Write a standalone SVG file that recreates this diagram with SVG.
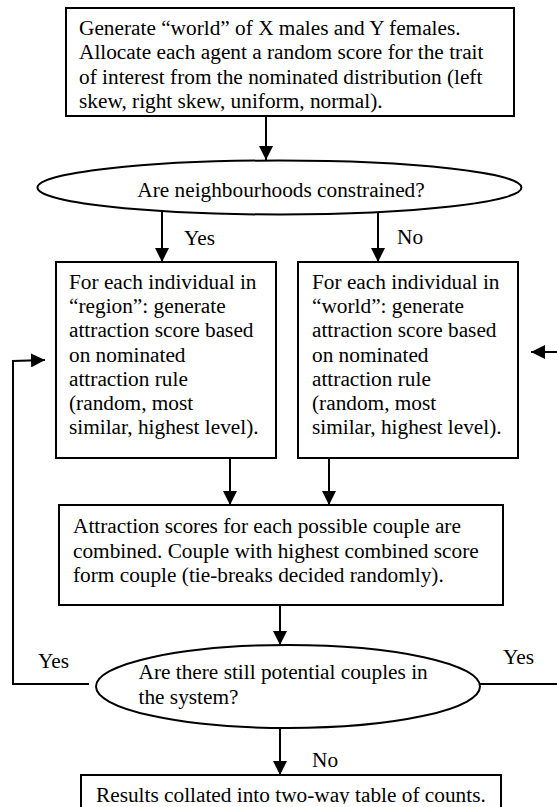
<svg xmlns="http://www.w3.org/2000/svg" width="557" height="807" viewBox="0 0 557 807">
<style>
  .box { fill: #fff; stroke: #000; stroke-width: 2; }
  .ell { fill: #fff; stroke: #000; stroke-width: 2; }
  .t { font-family: 'Liberation Serif', 'Times New Roman', Times, 'DejaVu Serif', serif; font-size: 21.3px; fill: #000; }
  .arr { fill: none; stroke: #000; stroke-width: 2; marker-end: url(#ah); }
</style>
<defs>
  <marker id="ah" markerUnits="userSpaceOnUse" markerWidth="14" markerHeight="14" viewBox="0 0 14 14" refX="14" refY="7" orient="auto">
    <path d="M0,0 L14,7 L0,14 Z" fill="#000"/>
  </marker>
  <clipPath id="clipTop"><rect x="66" y="8" width="448" height="105"/></clipPath>
  <clipPath id="clipBot"><rect x="81" y="775" width="420" height="29"/></clipPath>
</defs>

<g id="connectors">
  <line class="arr" x1="266" y1="117" x2="266" y2="160"/>
  <line class="arr" x1="162" y1="212" x2="162" y2="262"/>
  <line class="arr" x1="378" y1="212" x2="378" y2="262"/>
  <line class="arr" x1="230" y1="458" x2="230" y2="505"/>
  <line class="arr" x1="329" y1="458" x2="329" y2="505"/>
  <line class="arr" x1="280" y1="605" x2="280" y2="645"/>
  <line class="arr" x1="280" y1="728" x2="280" y2="775"/>
  <path class="arr" d="M89,684 L13,684 L13,361 L45,360"/>
  <path class="arr" d="M480,684 L565,684 L565,352 L531,352"/>
  <text class="t" font-family="Liberation Serif, serif" x="184" y="245">Yes</text>
  <text class="t" x="397" y="244">No</text>
  <text class="t" x="38" y="668">Yes</text>
  <text class="t" x="503" y="664">Yes</text>
  <text class="t" x="312" y="767">No</text>
</g>

<g id="n-generate">
  <rect class="box" x="66" y="8" width="448" height="108"/>
  <g clip-path="url(#clipTop)">
    <text class="t" x="79" y="35">Generate “world” of X males and Y females.</text>
    <text class="t" x="79" y="59">Allocate each agent a random score for the trait</text>
    <text class="t" x="79" y="84">of interest from the nominated distribution (left</text>
    <text class="t" x="79" y="108">skew, right skew, uniform, normal).</text>
  </g>
</g>

<g id="n-constrained">
  <ellipse class="ell" cx="279.5" cy="187.5" rx="242" ry="27"/>
  <text class="t" x="281" y="197" text-anchor="middle">Are neighbourhoods constrained?</text>
</g>

<g id="n-region">
  <rect class="box" x="56" y="262" width="220" height="196"/>
  <text class="t" x="69" y="289">For each individual in</text>
  <text class="t" x="69" y="313">“region”: generate</text>
  <text class="t" x="69" y="337">attraction score based</text>
  <text class="t" x="69" y="362">on nominated</text>
  <text class="t" x="69" y="386">attraction rule</text>
  <text class="t" x="69" y="410">(random, most</text>
  <text class="t" x="69" y="434">similar, highest level).</text>
</g>

<g id="n-world">
  <rect class="box" x="298" y="262" width="220" height="196"/>
  <text class="t" x="312" y="289">For each individual in</text>
  <text class="t" x="312" y="313">“world”: generate</text>
  <text class="t" x="312" y="337">attraction score based</text>
  <text class="t" x="312" y="362">on nominated</text>
  <text class="t" x="312" y="386">attraction rule</text>
  <text class="t" x="312" y="410">(random, most</text>
  <text class="t" x="312" y="434">similar, highest level).</text>
</g>

<g id="n-combine">
  <rect class="box" x="59" y="505" width="444" height="100"/>
  <text class="t" x="73" y="533">Attraction scores for each possible couple are</text>
  <text class="t" x="73" y="557.5">combined. Couple with highest combined score</text>
  <text class="t" x="73" y="582">form couple (tie-breaks decided randomly).</text>
</g>

<g id="n-still">
  <ellipse class="ell" cx="288" cy="686.5" rx="192" ry="41.5"/>
  <text class="t" x="138.5" y="679">Are there still potential couples in</text>
  <text class="t" x="138.5" y="703.5">the system?</text>
</g>

<g id="n-results">
  <rect class="box" x="81" y="775" width="420" height="40"/>
  <g clip-path="url(#clipBot)">
    <text class="t" x="96" y="802">Results collated into two-way table of counts.</text>
  </g>
</g>
</svg>
